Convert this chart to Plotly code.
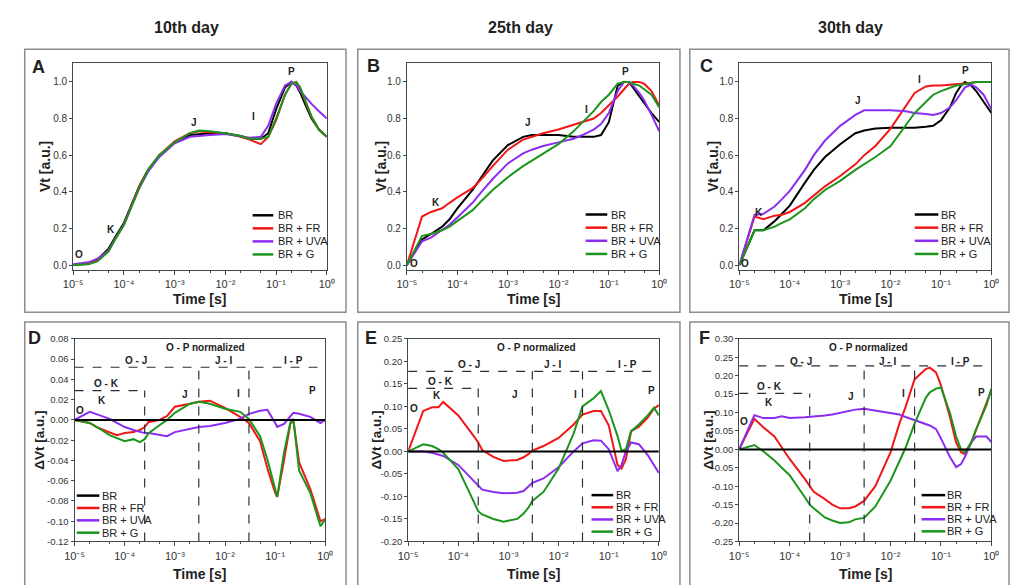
import plotly.graph_objects as go

W, H = 1020, 585

# ---------------- data ----------------
SERIES = ["BR", "BR + FR", "BR + UVA", "BR + G"]
COLORS = ["#000000", "#f21616", "#8b2cf0", "#1b951b"]
DAYS = ["10th day", "25th day", "30th day"]
LETTERS = ["A", "B", "C", "D", "E", "F"]
X_TICKVALS = [1e-5, 1e-4, 1e-3, 1e-2, 1e-1, 1.0]
X_TICKTEXT = ["10⁻⁵", "10⁻⁴", "10⁻³", "10⁻²", "10⁻¹", "10⁰"]
Y_TOP_TICKS = [0.0, 0.2, 0.4, 0.6, 0.8, 1.0]
Y_TOP_TEXT = ["0.0", "0.2", "0.4", "0.6", "0.8", "1.0"]
Y_D_TICKS = [-0.12, -0.10, -0.08, -0.06, -0.04, -0.02, 0.0, 0.02, 0.04, 0.06, 0.08]
Y_D_TEXT = ["-0.12", "-0.10", "-0.08", "-0.06", "-0.04", "-0.02", "0.00", "0.02", "0.04", "0.06", "0.08"]
Y_E_TICKS = [-0.20, -0.15, -0.10, -0.05, 0.0, 0.05, 0.10, 0.15, 0.20, 0.25]
Y_E_TEXT = ["-0.20", "-0.15", "-0.10", "-0.05", "0.00", "0.05", "0.10", "0.15", "0.20", "0.25"]
Y_F_TICKS = [-0.25, -0.20, -0.15, -0.10, -0.05, 0.0, 0.05, 0.10, 0.15, 0.20, 0.25, 0.30]
Y_F_TEXT = ["-0.25", "-0.20", "-0.15", "-0.10", "-0.05", "0.00", "0.05", "0.10", "0.15", "0.20", "0.25", "0.30"]

# Top row: normalized Vt
T_TOP = [1e-5, 2e-5, 3e-5, 5e-5, 7e-5, 1e-4, 2e-4, 3e-4, 5e-4, 1e-3, 2e-3, 3e-3, 5e-3,
         1e-2, 2e-2, 3e-2, 5e-2, 7e-2, 0.1, 0.15, 0.2, 0.25, 0.3, 0.4, 0.5, 0.7, 1.0]

A_BR = [0.0, 0.01, 0.03, 0.09, 0.16, 0.23, 0.43, 0.52, 0.60, 0.67, 0.71, 0.715, 0.72,
        0.72, 0.705, 0.69, 0.69, 0.72, 0.85, 0.97, 1.0, 0.98, 0.94, 0.86, 0.80, 0.74, 0.70]
A_FR = [0.0, 0.008, 0.025, 0.08, 0.15, 0.22, 0.43, 0.52, 0.60, 0.675, 0.72, 0.73, 0.725,
        0.72, 0.70, 0.685, 0.66, 0.70, 0.79, 0.93, 0.99, 1.0, 0.96, 0.87, 0.81, 0.74, 0.70]
A_UVA = [0.005, 0.015, 0.035, 0.08, 0.15, 0.22, 0.42, 0.51, 0.59, 0.665, 0.70, 0.705, 0.71,
         0.715, 0.705, 0.695, 0.70, 0.76, 0.88, 0.98, 1.0, 0.98, 0.95, 0.91, 0.88, 0.84, 0.80]
A_G = [0.0, 0.005, 0.02, 0.075, 0.15, 0.22, 0.42, 0.52, 0.60, 0.67, 0.72, 0.735, 0.73,
       0.72, 0.705, 0.69, 0.69, 0.70, 0.80, 0.93, 0.99, 1.0, 0.97, 0.88, 0.81, 0.74, 0.70]

B_BR = [0.0, 0.14, 0.17, 0.21, 0.25, 0.31, 0.41, 0.48, 0.57, 0.655, 0.70, 0.71, 0.71,
        0.71, 0.70, 0.70, 0.70, 0.71, 0.78, 0.98, 1.0, 1.0, 0.97, 0.92, 0.88, 0.83, 0.78]
B_FR = [0.0, 0.265, 0.29, 0.31, 0.34, 0.37, 0.42, 0.47, 0.54, 0.63, 0.685, 0.70, 0.72,
        0.74, 0.765, 0.78, 0.80, 0.83, 0.87, 0.92, 0.96, 0.99, 1.0, 1.0, 0.99, 0.95, 0.87]
B_UVA = [0.0, 0.13, 0.15, 0.19, 0.22, 0.26, 0.34, 0.40, 0.47, 0.555, 0.61, 0.63, 0.65,
         0.67, 0.69, 0.71, 0.74, 0.77, 0.83, 0.95, 1.0, 1.0, 0.98, 0.94, 0.90, 0.82, 0.73]
B_G = [0.0, 0.16, 0.17, 0.19, 0.21, 0.24, 0.30, 0.35, 0.41, 0.48, 0.54, 0.57, 0.61,
       0.66, 0.73, 0.78, 0.84, 0.89, 0.93, 0.99, 1.0, 1.0, 0.99, 0.98, 0.96, 0.93, 0.86]

C_BR = [0.0, 0.19, 0.19, 0.24, 0.28, 0.325, 0.45, 0.52, 0.59, 0.66, 0.72, 0.735, 0.745,
        0.75, 0.75, 0.75, 0.755, 0.76, 0.79, 0.86, 0.94, 0.98, 1.0, 0.98, 0.95, 0.89, 0.83]
C_FR = [0.0, 0.265, 0.25, 0.27, 0.275, 0.29, 0.34, 0.38, 0.43, 0.486, 0.55, 0.60, 0.65,
        0.745, 0.87, 0.94, 0.975, 0.98, 0.98, 0.985, 0.99, 0.99, 0.99, 0.995, 1.0, 1.0, 1.0]
C_UVA = [0.0, 0.275, 0.28, 0.32, 0.36, 0.405, 0.52, 0.60, 0.68, 0.76, 0.82, 0.845, 0.845,
         0.845, 0.84, 0.83, 0.825, 0.82, 0.83, 0.86, 0.90, 0.94, 0.97, 0.985, 0.97, 0.93, 0.85]
C_G = [0.0, 0.19, 0.19, 0.21, 0.23, 0.25, 0.31, 0.36, 0.41, 0.46, 0.52, 0.55, 0.59,
       0.65, 0.76, 0.83, 0.89, 0.93, 0.95, 0.97, 0.98, 0.985, 0.99, 0.995, 1.0, 1.0, 1.0]

# Bottom row: difference kinetics (treatment - BR)
T_ZERO = [1e-5, 1.0]
DIFF_BR = [0.0, 0.0]

T_D = [1e-5, 2e-5, 3e-5, 5e-5, 7e-5, 1e-4, 1.5e-4, 2e-4, 2.5e-4, 3e-4, 5e-4, 7e-4, 1e-3,
       2e-3, 3e-3, 5e-3, 1e-2, 2e-2, 3e-2, 5e-2, 7e-2, 0.1, 0.11, 0.15, 0.2, 0.23, 0.3,
       0.5, 0.8, 1.0]
D_FR = [0.0, -0.003, -0.008, -0.012, -0.015, -0.013, -0.012, -0.010, -0.007, -0.002, 0.0,
        0.004, 0.013, 0.016, 0.018, 0.019, 0.012, 0.003, -0.003, -0.021, -0.048, -0.072,
        -0.076, -0.04, -0.004, 0.0, -0.042, -0.068, -0.10, -0.098]
D_UVA = [0.0, 0.008, 0.005, 0.001, -0.003, -0.007, -0.010, -0.012, -0.013, -0.013, -0.015,
         -0.016, -0.012, -0.009, -0.007, -0.006, -0.003, 0.001, 0.006, 0.009, 0.010,
         -0.003, -0.007, -0.004, 0.004, 0.007, 0.006, 0.003, -0.003, 0.0]
D_G = [0.0, -0.003, -0.008, -0.015, -0.018, -0.021, -0.019, -0.022, -0.019, -0.013, -0.005,
       0.0, 0.007, 0.016, 0.018, 0.016, 0.011, 0.008, 0.001, -0.016, -0.039, -0.068,
       -0.076, -0.032, -0.003, 0.001, -0.05, -0.072, -0.105, -0.098]

T_E = [1e-5, 2e-5, 3e-5, 4e-5, 5e-5, 1e-4, 2e-4, 2.5e-4, 3e-4, 5e-4, 8e-4, 1.5e-3, 2e-3,
       2.5e-3, 3e-3, 5e-3, 1e-2, 2e-2, 3e-2, 5e-2, 7e-2, 0.1, 0.15, 0.18, 0.22, 0.28, 0.4,
       0.6, 0.8, 1.0]
E_FR = [0.0, 0.09, 0.098, 0.098, 0.11, 0.08, 0.035, 0.02, 0.003, -0.012, -0.021, -0.019,
        -0.013, -0.006, 0.002, 0.012, 0.03, 0.06, 0.082, 0.09, 0.09, 0.058, -0.03, -0.038,
        -0.017, 0.045, 0.055, 0.075, 0.095, 0.103]
E_UVA = [0.0, 0.0, -0.003, -0.006, -0.01, -0.03, -0.065, -0.078, -0.085, -0.09, -0.093,
         -0.092, -0.088, -0.078, -0.07, -0.06, -0.035, 0.0, 0.018, 0.025, 0.024, 0.005,
         -0.044, -0.03, 0.0, 0.02, 0.016, -0.008, -0.03, -0.048]
E_G = [0.0, 0.016, 0.012, 0.005, -0.003, -0.039, -0.11, -0.133, -0.14, -0.15, -0.156,
       -0.15, -0.138, -0.125, -0.11, -0.09, -0.038, 0.04, 0.10, 0.118, 0.134, 0.092, 0.034,
       0.001, 0.005, 0.045, 0.06, 0.08, 0.097, 0.08]

T_F = [1e-5, 2e-5, 3e-5, 5e-5, 7e-5, 1e-4, 2e-4, 2.5e-4, 3e-4, 5e-4, 7e-4, 1e-3, 1.5e-3,
       2e-3, 3e-3, 5e-3, 1e-2, 1.5e-2, 2e-2, 3e-2, 5e-2, 6e-2, 8e-2, 0.1, 0.15, 0.2, 0.25,
       0.3, 0.4, 0.5, 0.8, 1.0]
F_FR = [0.0, 0.083, 0.06, 0.035, 0.005, -0.026, -0.08, -0.10, -0.115, -0.135, -0.15, -0.16,
        -0.16, -0.155, -0.14, -0.10, -0.008, 0.07, 0.116, 0.19, 0.218, 0.222, 0.209, 0.174,
        0.089, 0.018, -0.008, -0.013, 0.018, 0.054, 0.125, 0.16]
F_UVA = [0.0, 0.093, 0.085, 0.085, 0.09, 0.085, 0.087, 0.088, 0.088, 0.092, 0.095, 0.10,
         0.105, 0.108, 0.11, 0.105, 0.10, 0.095, 0.088, 0.08, 0.07, 0.065, 0.055, 0.03,
         -0.02, -0.048, -0.04, -0.02, 0.02, 0.035, 0.035, 0.02]
F_G = [0.0, 0.012, -0.005, -0.03, -0.05, -0.07, -0.13, -0.15, -0.16, -0.185, -0.193, -0.2,
       -0.198, -0.19, -0.186, -0.155, -0.085, -0.035, 0.005, 0.07, 0.14, 0.155, 0.165, 0.168,
       0.10, 0.035, 0.0, -0.008, 0.02, 0.055, 0.12, 0.165]

# phase boundaries (s) and dashed-box heights for difference panels
PHASE_T = [2.5e-4, 3e-3, 3e-2]
BOX_OK = [0.029, 0.14, 0.152]
BOX_TOP = [0.052, 0.178, 0.227]

# ---------------- layout helpers ----------------
def px(x):
    return x / W

def py(y):
    return 1 - y / H

FONT = "Liberation Sans, Arial, sans-serif"
AXC = "#3f4a4a"
TXT = "#222222"

# plot-area pixel boxes (x0, x1, ytop, ybottom)
BOXES = [
    (64.3, 322.5, 58.3, 269.3),
    (404.0, 661.0, 58.3, 269.3),
    (742.5, 999.0, 58.3, 269.3),
    (65.7, 321.0, 339.3, 545.7),
    (405.3, 660.5, 339.3, 545.7),
    (742.3, 999.0, 339.3, 545.7),
]
PANEL_FRAMES = [
    (15, 44, 342, 312), (354, 44, 682, 312), (692, 44, 1017, 312),
    (15, 322, 342, 600), (354, 322, 682, 600), (692, 322, 1017, 600),
]
Y_RANGES = [[-0.028, 1.102]] * 3 + [[-0.12, 0.08], [-0.20, 0.25], [-0.25, 0.30]]
Y_TICKS = [(Y_TOP_TICKS, Y_TOP_TEXT)] * 3 + [(Y_D_TICKS, Y_D_TEXT), (Y_E_TICKS, Y_E_TEXT),
                                             (Y_F_TICKS, Y_F_TEXT)]

fig = go.Figure()

panel_data = [
    (T_TOP, [A_BR, A_FR, A_UVA, A_G]),
    (T_TOP, [B_BR, B_FR, B_UVA, B_G]),
    (T_TOP, [C_BR, C_FR, C_UVA, C_G]),
    (T_D, [None, D_FR, D_UVA, D_G]),
    (T_E, [None, E_FR, E_UVA, E_G]),
    (T_F, [None, F_FR, F_UVA, F_G]),
]

for i, (t, ys) in enumerate(panel_data):
    xa = "x" if i == 0 else f"x{i+1}"
    ya = "y" if i == 0 else f"y{i+1}"
    order = [0, 1, 2, 3] if i < 3 else [1, 2, 3, 0]
    for k in order:
        if ys[k] is None:
            xs, yv = T_ZERO, DIFF_BR
        else:
            xs, yv = t, ys[k]
        fig.add_trace(go.Scatter(x=xs, y=yv, mode="lines", name=SERIES[k],
                                 line=dict(color=COLORS[k], width=2),
                                 xaxis=xa, yaxis=ya, showlegend=False))

layout = dict(width=W, height=H, margin=dict(l=0, r=0, t=0, b=0),
              paper_bgcolor="white", plot_bgcolor="white",
              font=dict(family=FONT, color=TXT), showlegend=False)

for i, (x0, x1, yt, yb) in enumerate(BOXES):
    sx = "" if i == 0 else str(i + 1)
    layout[f"xaxis{sx}"] = dict(
        type="log", range=[-5, 0], domain=[px(x0), px(x1)], anchor=f"y{sx}",
        tickvals=X_TICKVALS, ticktext=X_TICKTEXT, ticks="outside", ticklen=4,
        tickcolor=AXC, showline=True, linecolor=AXC, linewidth=1, mirror=True,
        showgrid=False, zeroline=False, tickfont=dict(size=11, color="#333"),
        minor=dict(ticks="outside", ticklen=2, tickcolor=AXC, showgrid=False))
    tv, tt = Y_TICKS[i]
    layout[f"yaxis{sx}"] = dict(
        range=Y_RANGES[i], domain=[py(yb), py(yt)], anchor=f"x{sx}",
        tickvals=tv, ticktext=tt, ticks="outside", ticklen=3, tickcolor=AXC,
        showline=True, linecolor=AXC, linewidth=1, mirror=True, showgrid=False,
        zeroline=False, tickfont=dict(size=10 if i < 3 else 9.5, color="#333"))

fig.update_layout(**layout)

shapes = []
annotations = []


def note(text, x, y, xref="paper", yref="paper", size=10, xanchor="center", **kw):
    d = dict(text=text, x=x, y=y, xref=xref, yref=yref, showarrow=False,
             xanchor=xanchor, yanchor="middle", font=dict(size=size, color=TXT))
    d.update(kw)
    annotations.append(d)


# panel frames
for (a, b, c, d) in PANEL_FRAMES:
    shapes.append(dict(type="rect", xref="paper", yref="paper", x0=px(a), x1=px(c),
                       y0=py(d), y1=py(b), line=dict(color="#8c8c8c", width=1.5),
                       layer="below"))

# column titles
for day, cx in zip(DAYS, [180, 520, 856]):
    note(f"<b>{day}</b>", px(cx), py(22), size=16)

# panel letters
LETTER_POS = [(29, 62), (370, 61), (709, 61), (25, 338), (367, 338), (707, 338)]
for L, (lx, ly) in zip(LETTERS, LETTER_POS):
    note(f"<b>{L}</b>", px(lx), py(ly), size=18)

# axis titles
TITLE_X = [35, 377, 715, 30, 373, 711]
for i, (x0, x1, yt, yb) in enumerate(BOXES):
    cx = (x0 + x1) / 2
    ty = 298.5 if i < 3 else 578.5
    note("<b>Time [s]</b>", px(cx), py(ty), size=14)
    ylab = "<b>Vt [a.u.]</b>" if i < 3 else "<b>ΔVt [a.u.]</b>"
    note(ylab, px(TITLE_X[i]), py((yt + yb) / 2), size=14 if i < 3 else 13.5, textangle=-90)

# OJIP point labels (x as log10 for annotations on log axes)
POINT_LABELS = [
    [("O", -4.89, 0.059), ("K", -4.25, 0.193), ("J", -2.62, 0.777), ("I", -1.45, 0.809), ("P", -0.70, 1.055)],
    [("O", -4.86, 0.007), ("K", -4.43, 0.343), ("J", -2.60, 0.777), ("I", -1.45, 0.852), ("P", -0.68, 1.055)],
    [("O", -4.88, 0.007), ("K", -4.62, 0.289), ("J", -2.65, 0.896), ("I", -1.43, 1.012), ("P", -0.51, 1.06)],
    [("O", -4.90, 0.0098), ("K", -4.45, 0.0195), ("J", -2.80, 0.025), ("I", -1.73, 0.026), ("P", -0.25, 0.029)],
    [("O", -4.89, 0.096), ("K", -4.42, 0.125), ("J", -2.87, 0.126), ("I", -1.67, 0.126), ("P", -0.14, 0.135)],
    [("O", -4.91, 0.077), ("K", -4.40, 0.128), ("J", -2.79, 0.144), ("I", -1.74, 0.152), ("P", -0.20, 0.154)],
]
for i, labs in enumerate(POINT_LABELS):
    sx = "" if i == 0 else str(i + 1)
    for (txt, lx, ly) in labs:
        note(f"<b>{txt}</b>", lx, ly, xref=f"x{sx}", yref=f"y{sx}", size=10)

# phase labels for difference panels
PHASE_LABELS = [
    [("O - P normalized", -2.39, 0.0719), ("O - J", -3.78, 0.0583), ("J - I", -2.04, 0.0583),
     ("I - P", -0.64, 0.0583), ("O - K", -4.37, 0.0357)],
    [("O - P normalized", -2.45, 0.231), ("O - J", -3.79, 0.194), ("J - I", -2.13, 0.194),
     ("I - P", -0.63, 0.194), ("O - K", -4.36, 0.155)],
    [("O - P normalized", -2.43, 0.277), ("O - J", -3.78, 0.240), ("J - I", -2.06, 0.240),
     ("I - P", -0.62, 0.240), ("O - K", -4.40, 0.170)],
]
for j, labs in enumerate(PHASE_LABELS):
    sx = str(j + 4)
    for (txt, lx, ly) in labs:
        note(f"<b>{txt}</b>", lx, ly, xref=f"x{sx}", yref=f"y{sx}", size=10)
    ymin = Y_RANGES[j + 3][0]
    dash = dict(color="#2a2f36", width=1.2, dash="dash")
    shapes.append(dict(type="line", xref=f"x{sx}", yref=f"y{sx}", x0=1e-5, x1=1.0,
                       y0=BOX_TOP[j], y1=BOX_TOP[j], line=dash))
    shapes.append(dict(type="line", xref=f"x{sx}", yref=f"y{sx}", x0=1e-5, x1=PHASE_T[0],
                       y0=BOX_OK[j], y1=BOX_OK[j], line=dash))
    shapes.append(dict(type="line", xref=f"x{sx}", yref=f"y{sx}", x0=PHASE_T[0], x1=PHASE_T[0],
                       y0=ymin, y1=BOX_OK[j], line=dash))
    for tb in PHASE_T[1:]:
        shapes.append(dict(type="line", xref=f"x{sx}", yref=f"y{sx}", x0=tb, x1=tb,
                           y0=ymin, y1=BOX_TOP[j], line=dash))

# legends (line swatch x0, x1, text x, first row y, row step) in pixels
LEGENDS = [
    (247, 268, 271, 213.3, 13.3),
    (586, 608, 610, 212.5, 13.4),
    (921, 945, 946, 212.5, 13.4),
    (68, 91, 92, 499.0, 12.6),
    (592, 614, 615, 498.5, 12.4),
    (928, 952, 952, 498.5, 12.3),
]
for (lx0, lx1, tx, ry, dy) in LEGENDS:
    for k, name in enumerate(SERIES):
        yy = ry + k * dy
        shapes.append(dict(type="line", xref="paper", yref="paper", x0=px(lx0), x1=px(lx1),
                           y0=py(yy), y1=py(yy), line=dict(color=COLORS[k], width=2.5)))
        note(name, px(tx), py(yy), size=11, xanchor="left")

fig.update_layout(shapes=shapes, annotations=annotations)
fig.write_html("out.html")
